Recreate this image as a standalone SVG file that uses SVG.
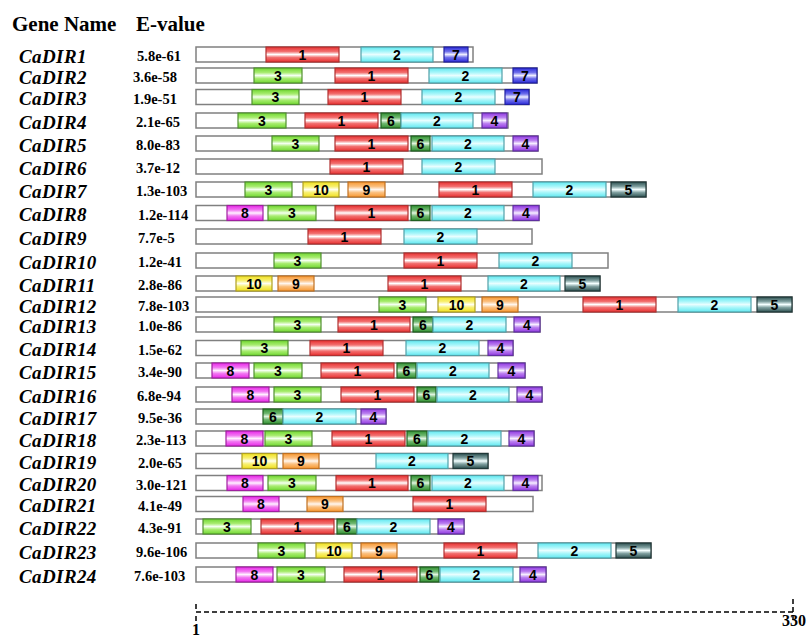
<svg xmlns="http://www.w3.org/2000/svg" width="811" height="638" viewBox="0 0 811 638">
<style>
  .hdr{font-family:"Liberation Serif","Times New Roman",serif;font-weight:bold;font-size:21px;fill:#000}
  .gene{font-family:"Liberation Serif","Times New Roman",serif;font-weight:bold;font-style:italic;font-size:19px;letter-spacing:0.4px;fill:#000}
  .ev{font-family:"Liberation Serif","Times New Roman",serif;font-weight:bold;font-size:14.5px;fill:#000}
  .bb{fill:#fff;stroke:#808080;stroke-width:1.5}
  .m{stroke-width:1.2}
  .lb{font-family:"Liberation Sans",Arial,sans-serif;font-weight:bold;font-size:14px;fill:#000;text-anchor:middle}
  .m1{fill:url(#g1);stroke:#b03030}
  .m2{fill:url(#g2);stroke:#50a0a8}
  .m3{fill:url(#g3);stroke:#509030}
  .m4{fill:url(#g4);stroke:#6030a0}
  .m5{fill:url(#g5);stroke:#203838}
  .m6{fill:url(#g6);stroke:#206020}
  .m7{fill:url(#g7);stroke:#2020a0}
  .m8{fill:url(#g8);stroke:#a020a0}
  .m9{fill:url(#g9);stroke:#c07020}
  .m10{fill:url(#g10);stroke:#b0a020}
  .scale{fill:none;stroke:#000;stroke-width:1.5;stroke-dasharray:5 3}
  .sc{font-family:"Liberation Serif","Times New Roman",serif;font-weight:bold;font-size:16px;fill:#000}
</style>
<defs>
  <linearGradient id="g1" x1="0" y1="0" x2="0" y2="1"><stop offset="0" stop-color="#e83030"/><stop offset="0.3" stop-color="#f27070"/><stop offset="0.5" stop-color="#fff"/><stop offset="0.7" stop-color="#f27070"/><stop offset="1" stop-color="#e83030"/></linearGradient>
  <linearGradient id="g2" x1="0" y1="0" x2="0" y2="1"><stop offset="0" stop-color="#60e8f0"/><stop offset="0.3" stop-color="#a8f6fa"/><stop offset="0.5" stop-color="#e8feff"/><stop offset="0.7" stop-color="#a8f6fa"/><stop offset="1" stop-color="#60e8f0"/></linearGradient>
  <linearGradient id="g3" x1="0" y1="0" x2="0" y2="1"><stop offset="0" stop-color="#70d830"/><stop offset="0.3" stop-color="#a8ec70"/><stop offset="0.5" stop-color="#f4fff0"/><stop offset="0.7" stop-color="#a8ec70"/><stop offset="1" stop-color="#70d830"/></linearGradient>
  <linearGradient id="g4" x1="0" y1="0" x2="0" y2="1"><stop offset="0" stop-color="#9038e0"/><stop offset="0.3" stop-color="#bb80f0"/><stop offset="0.5" stop-color="#f6eeff"/><stop offset="0.7" stop-color="#bb80f0"/><stop offset="1" stop-color="#9038e0"/></linearGradient>
  <linearGradient id="g5" x1="0" y1="0" x2="0" y2="1"><stop offset="0" stop-color="#2c5050"/><stop offset="0.3" stop-color="#80a0a0"/><stop offset="0.5" stop-color="#f4ffff"/><stop offset="0.7" stop-color="#80a0a0"/><stop offset="1" stop-color="#2c5050"/></linearGradient>
  <linearGradient id="g6" x1="0" y1="0" x2="0" y2="1"><stop offset="0" stop-color="#309030"/><stop offset="0.3" stop-color="#70b870"/><stop offset="0.5" stop-color="#e0f4e0"/><stop offset="0.7" stop-color="#70b870"/><stop offset="1" stop-color="#309030"/></linearGradient>
  <linearGradient id="g7" x1="0" y1="0" x2="0" y2="1"><stop offset="0" stop-color="#2a2ad8"/><stop offset="0.3" stop-color="#7070ec"/><stop offset="0.5" stop-color="#eeeeff"/><stop offset="0.7" stop-color="#7070ec"/><stop offset="1" stop-color="#2a2ad8"/></linearGradient>
  <linearGradient id="g8" x1="0" y1="0" x2="0" y2="1"><stop offset="0" stop-color="#e828e8"/><stop offset="0.3" stop-color="#f278f2"/><stop offset="0.5" stop-color="#fff0ff"/><stop offset="0.7" stop-color="#f278f2"/><stop offset="1" stop-color="#e828e8"/></linearGradient>
  <linearGradient id="g9" x1="0" y1="0" x2="0" y2="1"><stop offset="0" stop-color="#f89830"/><stop offset="0.3" stop-color="#fbc080"/><stop offset="0.5" stop-color="#fff6ee"/><stop offset="0.7" stop-color="#fbc080"/><stop offset="1" stop-color="#f89830"/></linearGradient>
  <linearGradient id="g10" x1="0" y1="0" x2="0" y2="1"><stop offset="0" stop-color="#f0e020"/><stop offset="0.3" stop-color="#f8f070"/><stop offset="0.5" stop-color="#fffff0"/><stop offset="0.7" stop-color="#f8f070"/><stop offset="1" stop-color="#f0e020"/></linearGradient>
</defs>
<rect width="811" height="638" fill="#fff"/>

<!-- column headings -->
<text class="hdr" x="12" y="31">Gene Name</text>
<text class="hdr" x="136" y="31">E-value</text>

<!-- one group per gene: name, E-value, protein backbone and its motifs -->
<g id="CaDIR1" transform="translate(0,47)">
  <text class="gene" x="19" y="15.5">CaDIR1</text><text class="ev" x="137" y="14">5.8e-61</text>
  <rect class="bb" x="196" y="0" width="277" height="15"/>
  <rect class="m m1" x="266" y="0" width="73" height="15"/><text class="lb" x="302.5" y="12.5">1</text>
  <rect class="m m2" x="361" y="0" width="72" height="15"/><text class="lb" x="397" y="12.5">2</text>
  <rect class="m m7" x="444" y="0" width="24" height="15"/><text class="lb" x="456" y="12.5">7</text>
</g>
<g id="CaDIR2" transform="translate(0,68)">
  <text class="gene" x="19" y="15.5">CaDIR2</text><text class="ev" x="133" y="14">3.6e-58</text>
  <rect class="bb" x="196" y="0" width="341" height="15"/>
  <rect class="m m3" x="254" y="0" width="48" height="15"/><text class="lb" x="278" y="12.5">3</text>
  <rect class="m m1" x="335" y="0" width="73" height="15"/><text class="lb" x="371.5" y="12.5">1</text>
  <rect class="m m2" x="429" y="0" width="73" height="15"/><text class="lb" x="465.5" y="12.5">2</text>
  <rect class="m m7" x="513" y="0" width="24" height="15"/><text class="lb" x="525" y="12.5">7</text>
</g>
<g id="CaDIR3" transform="translate(0,89.5)">
  <text class="gene" x="19" y="15.5">CaDIR3</text><text class="ev" x="133" y="14">1.9e-51</text>
  <rect class="bb" x="196" y="0" width="333" height="15"/>
  <rect class="m m3" x="252" y="0" width="47" height="15"/><text class="lb" x="275.5" y="12.5">3</text>
  <rect class="m m1" x="328" y="0" width="73" height="15"/><text class="lb" x="364.5" y="12.5">1</text>
  <rect class="m m2" x="422" y="0" width="73" height="15"/><text class="lb" x="458.5" y="12.5">2</text>
  <rect class="m m7" x="505" y="0" width="24" height="15"/><text class="lb" x="517" y="12.5">7</text>
</g>
<g id="CaDIR4" transform="translate(0,113)">
  <text class="gene" x="19" y="15.5">CaDIR4</text><text class="ev" x="136" y="14">2.1e-65</text>
  <rect class="bb" x="196" y="0" width="312" height="15"/>
  <rect class="m m3" x="238" y="0" width="48" height="15"/><text class="lb" x="262" y="12.5">3</text>
  <rect class="m m1" x="305" y="0" width="73" height="15"/><text class="lb" x="341.5" y="12.5">1</text>
  <rect class="m m6" x="381" y="0" width="20" height="15"/><text class="lb" x="391" y="12.5">6</text>
  <rect class="m m2" x="401" y="0" width="72" height="15"/><text class="lb" x="437" y="12.5">2</text>
  <rect class="m m4" x="482" y="0" width="25" height="15"/><text class="lb" x="494.5" y="12.5">4</text>
</g>
<g id="CaDIR5" transform="translate(0,136)">
  <text class="gene" x="19" y="15.5">CaDIR5</text><text class="ev" x="136" y="14">8.0e-83</text>
  <rect class="bb" x="196" y="0" width="342" height="15"/>
  <rect class="m m3" x="272" y="0" width="47" height="15"/><text class="lb" x="295.5" y="12.5">3</text>
  <rect class="m m1" x="335" y="0" width="73" height="15"/><text class="lb" x="371.5" y="12.5">1</text>
  <rect class="m m6" x="411" y="0" width="19" height="15"/><text class="lb" x="420.5" y="12.5">6</text>
  <rect class="m m2" x="432" y="0" width="72" height="15"/><text class="lb" x="468" y="12.5">2</text>
  <rect class="m m4" x="513" y="0" width="25" height="15"/><text class="lb" x="525.5" y="12.5">4</text>
</g>
<g id="CaDIR6" transform="translate(0,159)">
  <text class="gene" x="19" y="15.5">CaDIR6</text><text class="ev" x="136" y="14">3.7e-12</text>
  <rect class="bb" x="196" y="0" width="346" height="15"/>
  <rect class="m m1" x="330" y="0" width="73" height="15"/><text class="lb" x="366.5" y="12.5">1</text>
  <rect class="m m2" x="422" y="0" width="73" height="15"/><text class="lb" x="458.5" y="12.5">2</text>
</g>
<g id="CaDIR7" transform="translate(0,182)">
  <text class="gene" x="19" y="15.5">CaDIR7</text><text class="ev" x="136" y="14">1.3e-103</text>
  <rect class="bb" x="196" y="0" width="450" height="15"/>
  <rect class="m m3" x="245" y="0" width="47" height="15"/><text class="lb" x="268.5" y="12.5">3</text>
  <rect class="m m10" x="303" y="0" width="36" height="15"/><text class="lb" x="321" y="12.5">10</text>
  <rect class="m m9" x="348" y="0" width="37" height="15"/><text class="lb" x="366.5" y="12.5">9</text>
  <rect class="m m1" x="439" y="0" width="73" height="15"/><text class="lb" x="475.5" y="12.5">1</text>
  <rect class="m m2" x="533" y="0" width="73" height="15"/><text class="lb" x="569.5" y="12.5">2</text>
  <rect class="m m5" x="611" y="0" width="35" height="15"/><text class="lb" x="628.5" y="12.5">5</text>
</g>
<g id="CaDIR8" transform="translate(0,205.5)">
  <text class="gene" x="19" y="15.5">CaDIR8</text><text class="ev" x="138" y="14">1.2e-114</text>
  <rect class="bb" x="196" y="0" width="343" height="15"/>
  <rect class="m m8" x="227" y="0" width="36" height="15"/><text class="lb" x="245" y="12.5">8</text>
  <rect class="m m3" x="268" y="0" width="48" height="15"/><text class="lb" x="292" y="12.5">3</text>
  <rect class="m m1" x="335" y="0" width="73" height="15"/><text class="lb" x="371.5" y="12.5">1</text>
  <rect class="m m6" x="411" y="0" width="19" height="15"/><text class="lb" x="420.5" y="12.5">6</text>
  <rect class="m m2" x="432" y="0" width="72" height="15"/><text class="lb" x="468" y="12.5">2</text>
  <rect class="m m4" x="513" y="0" width="26" height="15"/><text class="lb" x="526" y="12.5">4</text>
</g>
<g id="CaDIR9" transform="translate(0,229)">
  <text class="gene" x="19" y="15.5">CaDIR9</text><text class="ev" x="138" y="14">7.7e-5</text>
  <rect class="bb" x="196" y="0" width="336" height="15"/>
  <rect class="m m1" x="308" y="0" width="73" height="15"/><text class="lb" x="344.5" y="12.5">1</text>
  <rect class="m m2" x="404" y="0" width="73" height="15"/><text class="lb" x="440.5" y="12.5">2</text>
</g>
<g id="CaDIR10" transform="translate(0,253)">
  <text class="gene" x="19" y="15.5">CaDIR10</text><text class="ev" x="138" y="14">1.2e-41</text>
  <rect class="bb" x="196" y="0" width="412" height="15"/>
  <rect class="m m3" x="274" y="0" width="47" height="15"/><text class="lb" x="297.5" y="12.5">3</text>
  <rect class="m m1" x="404" y="0" width="73" height="15"/><text class="lb" x="440.5" y="12.5">1</text>
  <rect class="m m2" x="499" y="0" width="73" height="15"/><text class="lb" x="535.5" y="12.5">2</text>
</g>
<g id="CaDIR11" transform="translate(0,276)">
  <text class="gene" x="19" y="15.5">CaDIR11</text><text class="ev" x="138" y="14">2.8e-86</text>
  <rect class="bb" x="196" y="0" width="404" height="15"/>
  <rect class="m m10" x="236" y="0" width="36" height="15"/><text class="lb" x="254" y="12.5">10</text>
  <rect class="m m9" x="278" y="0" width="36" height="15"/><text class="lb" x="296" y="12.5">9</text>
  <rect class="m m1" x="388" y="0" width="73" height="15"/><text class="lb" x="424.5" y="12.5">1</text>
  <rect class="m m2" x="488" y="0" width="72" height="15"/><text class="lb" x="524" y="12.5">2</text>
  <rect class="m m5" x="565" y="0" width="35" height="15"/><text class="lb" x="582.5" y="12.5">5</text>
</g>
<g id="CaDIR12" transform="translate(0,297)">
  <text class="gene" x="19" y="15.5">CaDIR12</text><text class="ev" x="138" y="14">7.8e-103</text>
  <rect class="bb" x="196" y="0" width="596" height="15"/>
  <rect class="m m3" x="379" y="0" width="47" height="15"/><text class="lb" x="402.5" y="12.5">3</text>
  <rect class="m m10" x="438" y="0" width="37" height="15"/><text class="lb" x="456.5" y="12.5">10</text>
  <rect class="m m9" x="482" y="0" width="36" height="15"/><text class="lb" x="500" y="12.5">9</text>
  <rect class="m m1" x="583" y="0" width="73" height="15"/><text class="lb" x="619.5" y="12.5">1</text>
  <rect class="m m2" x="678" y="0" width="73" height="15"/><text class="lb" x="714.5" y="12.5">2</text>
  <rect class="m m5" x="757" y="0" width="35" height="15"/><text class="lb" x="774.5" y="12.5">5</text>
</g>
<g id="CaDIR13" transform="translate(0,317)">
  <text class="gene" x="19" y="15.5">CaDIR13</text><text class="ev" x="138" y="14">1.0e-86</text>
  <rect class="bb" x="196" y="0" width="344" height="15"/>
  <rect class="m m3" x="274" y="0" width="47" height="15"/><text class="lb" x="297.5" y="12.5">3</text>
  <rect class="m m1" x="338" y="0" width="72" height="15"/><text class="lb" x="374" y="12.5">1</text>
  <rect class="m m6" x="413" y="0" width="20" height="15"/><text class="lb" x="423" y="12.5">6</text>
  <rect class="m m2" x="433" y="0" width="73" height="15"/><text class="lb" x="469.5" y="12.5">2</text>
  <rect class="m m4" x="514" y="0" width="26" height="15"/><text class="lb" x="527" y="12.5">4</text>
</g>
<g id="CaDIR14" transform="translate(0,340.5)">
  <text class="gene" x="19" y="15.5">CaDIR14</text><text class="ev" x="138" y="14">1.5e-62</text>
  <rect class="bb" x="196" y="0" width="317" height="15"/>
  <rect class="m m3" x="241" y="0" width="47" height="15"/><text class="lb" x="264.5" y="12.5">3</text>
  <rect class="m m1" x="310" y="0" width="73" height="15"/><text class="lb" x="346.5" y="12.5">1</text>
  <rect class="m m2" x="406" y="0" width="73" height="15"/><text class="lb" x="442.5" y="12.5">2</text>
  <rect class="m m4" x="488" y="0" width="25" height="15"/><text class="lb" x="500.5" y="12.5">4</text>
</g>
<g id="CaDIR15" transform="translate(0,363)">
  <text class="gene" x="19" y="15.5">CaDIR15</text><text class="ev" x="138" y="14">3.4e-90</text>
  <rect class="bb" x="196" y="0" width="329" height="15"/>
  <rect class="m m8" x="212" y="0" width="37" height="15"/><text class="lb" x="230.5" y="12.5">8</text>
  <rect class="m m3" x="254" y="0" width="48" height="15"/><text class="lb" x="278" y="12.5">3</text>
  <rect class="m m1" x="321" y="0" width="73" height="15"/><text class="lb" x="357.5" y="12.5">1</text>
  <rect class="m m6" x="397" y="0" width="19" height="15"/><text class="lb" x="406.5" y="12.5">6</text>
  <rect class="m m2" x="417" y="0" width="72" height="15"/><text class="lb" x="453" y="12.5">2</text>
  <rect class="m m4" x="498" y="0" width="27" height="15"/><text class="lb" x="511.5" y="12.5">4</text>
</g>
<g id="CaDIR16" transform="translate(0,387)">
  <text class="gene" x="19" y="15.5">CaDIR16</text><text class="ev" x="137" y="14">6.8e-94</text>
  <rect class="bb" x="196" y="0" width="346" height="15"/>
  <rect class="m m8" x="232" y="0" width="37" height="15"/><text class="lb" x="250.5" y="12.5">8</text>
  <rect class="m m3" x="274" y="0" width="47" height="15"/><text class="lb" x="297.5" y="12.5">3</text>
  <rect class="m m1" x="341" y="0" width="73" height="15"/><text class="lb" x="377.5" y="12.5">1</text>
  <rect class="m m6" x="417" y="0" width="19" height="15"/><text class="lb" x="426.5" y="12.5">6</text>
  <rect class="m m2" x="437" y="0" width="72" height="15"/><text class="lb" x="473" y="12.5">2</text>
  <rect class="m m4" x="517" y="0" width="25" height="15"/><text class="lb" x="529.5" y="12.5">4</text>
</g>
<g id="CaDIR17" transform="translate(0,409)">
  <text class="gene" x="19" y="15.5">CaDIR17</text><text class="ev" x="138" y="14">9.5e-36</text>
  <rect class="bb" x="196" y="0" width="190" height="15"/>
  <rect class="m m6" x="263" y="0" width="20" height="15"/><text class="lb" x="273" y="12.5">6</text>
  <rect class="m m2" x="283" y="0" width="73" height="15"/><text class="lb" x="319.5" y="12.5">2</text>
  <rect class="m m4" x="361" y="0" width="25" height="15"/><text class="lb" x="373.5" y="12.5">4</text>
</g>
<g id="CaDIR18" transform="translate(0,431)">
  <text class="gene" x="19" y="15.5">CaDIR18</text><text class="ev" x="136" y="14">2.3e-113</text>
  <rect class="bb" x="196" y="0" width="338" height="15"/>
  <rect class="m m8" x="226" y="0" width="37" height="15"/><text class="lb" x="244.5" y="12.5">8</text>
  <rect class="m m3" x="265" y="0" width="47" height="15"/><text class="lb" x="288.5" y="12.5">3</text>
  <rect class="m m1" x="332" y="0" width="73" height="15"/><text class="lb" x="368.5" y="12.5">1</text>
  <rect class="m m6" x="407" y="0" width="20" height="15"/><text class="lb" x="417" y="12.5">6</text>
  <rect class="m m2" x="428" y="0" width="73" height="15"/><text class="lb" x="464.5" y="12.5">2</text>
  <rect class="m m4" x="509" y="0" width="25" height="15"/><text class="lb" x="521.5" y="12.5">4</text>
</g>
<g id="CaDIR19" transform="translate(0,453.5)">
  <text class="gene" x="19" y="15.5">CaDIR19</text><text class="ev" x="138" y="14">2.0e-65</text>
  <rect class="bb" x="196" y="0" width="292" height="15"/>
  <rect class="m m10" x="242" y="0" width="35" height="15"/><text class="lb" x="259.5" y="12.5">10</text>
  <rect class="m m9" x="283" y="0" width="36" height="15"/><text class="lb" x="301" y="12.5">9</text>
  <rect class="m m2" x="376" y="0" width="72" height="15"/><text class="lb" x="412" y="12.5">2</text>
  <rect class="m m5" x="453" y="0" width="35" height="15"/><text class="lb" x="470.5" y="12.5">5</text>
</g>
<g id="CaDIR20" transform="translate(0,475.5)">
  <text class="gene" x="19" y="15.5">CaDIR20</text><text class="ev" x="136" y="14">3.0e-121</text>
  <rect class="bb" x="196" y="0" width="346" height="15"/>
  <rect class="m m8" x="227" y="0" width="36" height="15"/><text class="lb" x="245" y="12.5">8</text>
  <rect class="m m3" x="268" y="0" width="48" height="15"/><text class="lb" x="292" y="12.5">3</text>
  <rect class="m m1" x="336" y="0" width="72" height="15"/><text class="lb" x="372" y="12.5">1</text>
  <rect class="m m6" x="411" y="0" width="19" height="15"/><text class="lb" x="420.5" y="12.5">6</text>
  <rect class="m m2" x="432" y="0" width="72" height="15"/><text class="lb" x="468" y="12.5">2</text>
  <rect class="m m4" x="513" y="0" width="25" height="15"/><text class="lb" x="525.5" y="12.5">4</text>
</g>
<g id="CaDIR21" transform="translate(0,496.5)">
  <text class="gene" x="19" y="15.5">CaDIR21</text><text class="ev" x="138" y="14">4.1e-49</text>
  <rect class="bb" x="196" y="0" width="337" height="15"/>
  <rect class="m m8" x="243" y="0" width="36" height="15"/><text class="lb" x="261" y="12.5">8</text>
  <rect class="m m9" x="307" y="0" width="36" height="15"/><text class="lb" x="325" y="12.5">9</text>
  <rect class="m m1" x="413" y="0" width="73" height="15"/><text class="lb" x="449.5" y="12.5">1</text>
</g>
<g id="CaDIR22" transform="translate(0,519)">
  <text class="gene" x="19" y="15.5">CaDIR22</text><text class="ev" x="138" y="14">4.3e-91</text>
  <rect class="bb" x="196" y="0" width="268" height="15"/>
  <rect class="m m3" x="203" y="0" width="48" height="15"/><text class="lb" x="227" y="12.5">3</text>
  <rect class="m m1" x="261" y="0" width="73" height="15"/><text class="lb" x="297.5" y="12.5">1</text>
  <rect class="m m6" x="337" y="0" width="20" height="15"/><text class="lb" x="347" y="12.5">6</text>
  <rect class="m m2" x="357" y="0" width="73" height="15"/><text class="lb" x="393.5" y="12.5">2</text>
  <rect class="m m4" x="438" y="0" width="26" height="15"/><text class="lb" x="451" y="12.5">4</text>
</g>
<g id="CaDIR23" transform="translate(0,543)">
  <text class="gene" x="19" y="15.5">CaDIR23</text><text class="ev" x="136" y="14">9.6e-106</text>
  <rect class="bb" x="196" y="0" width="455" height="15"/>
  <rect class="m m3" x="258" y="0" width="47" height="15"/><text class="lb" x="281.5" y="12.5">3</text>
  <rect class="m m10" x="316" y="0" width="36" height="15"/><text class="lb" x="334" y="12.5">10</text>
  <rect class="m m9" x="361" y="0" width="36" height="15"/><text class="lb" x="379" y="12.5">9</text>
  <rect class="m m1" x="444" y="0" width="73" height="15"/><text class="lb" x="480.5" y="12.5">1</text>
  <rect class="m m2" x="538" y="0" width="73" height="15"/><text class="lb" x="574.5" y="12.5">2</text>
  <rect class="m m5" x="616" y="0" width="35" height="15"/><text class="lb" x="633.5" y="12.5">5</text>
</g>
<g id="CaDIR24" transform="translate(0,567)">
  <text class="gene" x="19" y="15.5">CaDIR24</text><text class="ev" x="134" y="14">7.6e-103</text>
  <rect class="bb" x="196" y="0" width="350" height="15"/>
  <rect class="m m8" x="236" y="0" width="37" height="15"/><text class="lb" x="254.5" y="12.5">8</text>
  <rect class="m m3" x="277" y="0" width="48" height="15"/><text class="lb" x="301" y="12.5">3</text>
  <rect class="m m1" x="344" y="0" width="73" height="15"/><text class="lb" x="380.5" y="12.5">1</text>
  <rect class="m m6" x="420" y="0" width="19" height="15"/><text class="lb" x="429.5" y="12.5">6</text>
  <rect class="m m2" x="440" y="0" width="73" height="15"/><text class="lb" x="476.5" y="12.5">2</text>
  <rect class="m m4" x="520" y="0" width="26" height="15"/><text class="lb" x="533" y="12.5">4</text>
</g>

<!-- length scale, 1 to 330 aa -->
<g id="scale">
  <path class="scale" d="M196,604 V612 H793"/>
  <path class="scale" d="M196,616 V624"/>
  <path class="scale" d="M793,599 V622"/>
  <text class="sc" x="196" y="635" text-anchor="middle">1</text>
  <text class="sc" x="806" y="626" text-anchor="end">330</text>
</g>
</svg>
